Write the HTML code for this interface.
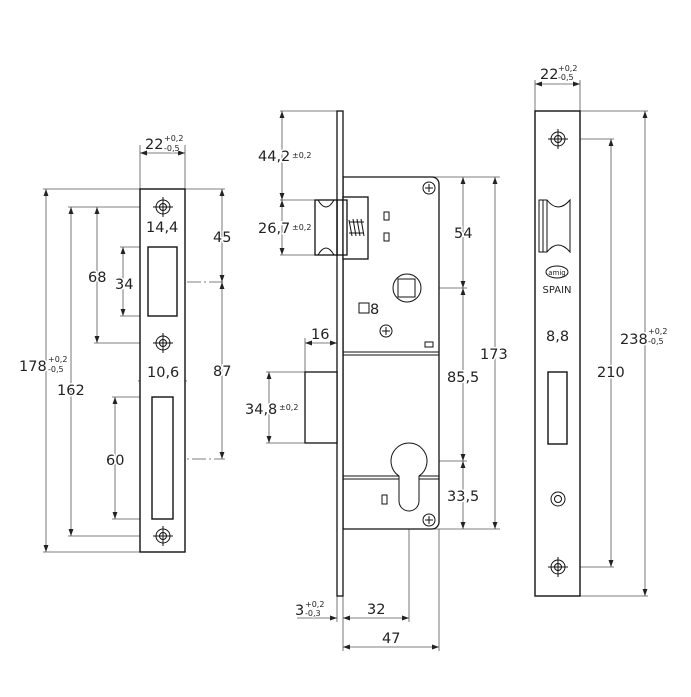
<!DOCTYPE html>
<html><head><meta charset="utf-8"><style>
html,body{margin:0;padding:0;background:#fff;}
svg{display:block;}
text{font-family:"DejaVu Sans","Liberation Sans",sans-serif;fill:#222;paint-order:stroke;stroke:#fff;stroke-width:3px;}
.d{font-size:14.5px;}
.s{font-size:8px;stroke-width:1.5px;}
</style></head><body>
<svg width="691" height="697" viewBox="0 0 691 697" xmlns="http://www.w3.org/2000/svg">
<defs>
<marker id="a" viewBox="0 0 10 10" refX="10" refY="5" markerWidth="7" markerHeight="7" orient="auto-start-reverse" markerUnits="userSpaceOnUse"><path d="M0,1.5 L10,5 L0,8.5 z" fill="#222"/></marker>
</defs>

<!-- ===== LEFT STRIKE PLATE ===== -->
<g stroke="#555" stroke-width="0.8" fill="none">
  <line x1="140" y1="145" x2="140" y2="189"/><line x1="185" y1="145" x2="185" y2="189"/>
  <line x1="140" y1="153" x2="185" y2="153" marker-start="url(#a)" marker-end="url(#a)"/>
  <line x1="43" y1="189" x2="140" y2="189"/><line x1="43" y1="552" x2="140" y2="552"/>
  <line x1="46" y1="189" x2="46" y2="552" marker-start="url(#a)" marker-end="url(#a)"/>
  <line x1="68" y1="207" x2="155" y2="207"/><line x1="68" y1="536" x2="155" y2="536"/>
  <line x1="71" y1="207" x2="71" y2="536" marker-start="url(#a)" marker-end="url(#a)"/>
  <line x1="94" y1="343" x2="155" y2="343"/>
  <line x1="97" y1="207" x2="97" y2="343" marker-start="url(#a)" marker-end="url(#a)"/>
  <line x1="120" y1="247" x2="148" y2="247"/><line x1="120" y1="316" x2="148" y2="316"/>
  <line x1="123" y1="247" x2="123" y2="316" marker-start="url(#a)" marker-end="url(#a)"/>
  <line x1="148" y1="232" x2="148" y2="247"/><line x1="177" y1="232" x2="177" y2="247"/>
  <line x1="148" y1="236" x2="177" y2="236" marker-start="url(#a)" marker-end="url(#a)"/>
  <line x1="152" y1="378" x2="152" y2="397"/><line x1="173" y1="378" x2="173" y2="397"/>
  <line x1="138" y1="381" x2="152" y2="381" marker-end="url(#a)"/>
  <line x1="187" y1="381" x2="173" y2="381" marker-end="url(#a)"/>
  <line x1="112" y1="397" x2="152" y2="397"/><line x1="112" y1="519" x2="152" y2="519"/>
  <line x1="115" y1="397" x2="115" y2="519" marker-start="url(#a)" marker-end="url(#a)"/>
  <line x1="185" y1="189" x2="225" y2="189"/>
  <line x1="143" y1="282" x2="225" y2="282" stroke-dasharray="14 3 2 3"/>
  <line x1="148" y1="459" x2="225" y2="459" stroke-dasharray="14 3 2 3"/>
  <line x1="222" y1="189" x2="222" y2="282" marker-start="url(#a)" marker-end="url(#a)"/>
  <line x1="222" y1="282" x2="222" y2="459" marker-start="url(#a)" marker-end="url(#a)"/>
</g>
<g stroke="#111" stroke-width="1.4" fill="#fff">
  <rect x="140" y="189" width="45" height="363"/>
  <rect x="148" y="247" width="29" height="69"/>
  <rect x="152" y="397" width="21" height="122"/>
</g>
<g stroke="#111" stroke-width="1" fill="none">
  <circle cx="163" cy="207" r="7"/><circle cx="163" cy="207" r="3.5"/><path d="M153 207h20M163 197v20"/>
  <circle cx="163" cy="343" r="7"/><circle cx="163" cy="343" r="3.5"/><path d="M153 343h20M163 333v20"/>
  <circle cx="163" cy="536" r="7"/><circle cx="163" cy="536" r="3.5"/><path d="M153 536h20M163 526v20"/>
</g>
<text class="d" x="145" y="149">22</text><text class="s" x="164" y="141">+0,2</text><text class="s" x="164" y="151">-0,5</text>
<text class="d" x="19" y="371">178</text><text class="s" x="48" y="362">+0,2</text><text class="s" x="48" y="372">-0,5</text>
<text class="d" x="57" y="395">162</text>
<text class="d" x="88" y="282">68</text>
<text class="d" x="115" y="289">34</text>
<text class="d" x="146" y="232">14,4</text>
<text class="d" x="147" y="377">10,6</text>
<text class="d" x="106" y="465">60</text>
<text class="d" x="213" y="242">45</text>
<text class="d" x="213" y="376">87</text>

<!-- ===== MIDDLE LOCK ===== -->
<g stroke="#555" stroke-width="0.8" fill="none">
  <line x1="280" y1="111" x2="337" y2="111"/><line x1="280" y1="200" x2="315" y2="200"/><line x1="280" y1="255" x2="315" y2="255"/>
  <line x1="282" y1="111" x2="282" y2="200" marker-start="url(#a)" marker-end="url(#a)"/>
  <line x1="282" y1="200" x2="282" y2="255" marker-start="url(#a)" marker-end="url(#a)"/>
  <line x1="305" y1="338" x2="305" y2="372"/>
  <line x1="305" y1="343" x2="337" y2="343" marker-start="url(#a)" marker-end="url(#a)"/>
  <line x1="266" y1="372" x2="305" y2="372"/><line x1="266" y1="443" x2="305" y2="443"/>
  <line x1="269" y1="372" x2="269" y2="443" marker-start="url(#a)" marker-end="url(#a)"/>
  <line x1="420" y1="177" x2="500" y2="177"/><line x1="430" y1="529" x2="500" y2="529"/>
  <line x1="408" y1="288" x2="467" y2="288"/><line x1="409" y1="461" x2="467" y2="461"/>
  <line x1="463" y1="177" x2="463" y2="288" marker-start="url(#a)" marker-end="url(#a)"/>
  <line x1="463" y1="288" x2="463" y2="461" marker-start="url(#a)" marker-end="url(#a)"/>
  <line x1="463" y1="461" x2="463" y2="529" marker-start="url(#a)" marker-end="url(#a)"/>
  <line x1="495" y1="177" x2="495" y2="529" marker-start="url(#a)" marker-end="url(#a)"/>
  <line x1="408" y1="255" x2="408" y2="320"/>
  <line x1="398" y1="297" x2="398" y2="320"/><line x1="415" y1="297" x2="415" y2="320"/>
  <line x1="370" y1="318" x2="398" y2="318" marker-end="url(#a)"/>
  <line x1="432" y1="318" x2="415" y2="318" marker-end="url(#a)"/>
  <line x1="409" y1="461" x2="409" y2="622"/>
  <line x1="337" y1="596" x2="337" y2="622"/><line x1="343" y1="596" x2="343" y2="651"/><line x1="439" y1="529" x2="439" y2="651"/>
  <line x1="297" y1="618" x2="337" y2="618" marker-end="url(#a)"/>
  <line x1="343" y1="618" x2="409" y2="618" marker-start="url(#a)" marker-end="url(#a)"/>
  <line x1="343" y1="647" x2="439" y2="647" marker-start="url(#a)" marker-end="url(#a)"/>
</g>
<g stroke="#111" stroke-width="1.3" fill="#fff">
  <path d="M343 177 H432 A7 7 0 0 1 439 184 V522 A7 7 0 0 1 432 529 H343 Z"/>
  <rect x="337" y="111" width="6" height="485"/>
  <rect x="343" y="197" width="25" height="62"/>
  <rect x="315" y="200" width="22" height="55"/>
  <rect x="337" y="200" width="10" height="55" fill="none"/>
  <rect x="305" y="372" width="32" height="71"/>
</g>
<g stroke="#111" stroke-width="1" fill="none">
  <path d="M318 200 Q326 214 334 200"/><path d="M318 255 Q326 241 334 255"/>
  <path d="M349 220 L352 236 M353 219 L356 236 M357 219 L360 236 M361 219 L364 236 M349 222 H364 M349 233 H364"/>
  <line x1="343" y1="352" x2="439" y2="352"/><line x1="343" y1="355" x2="439" y2="355"/>
  <line x1="343" y1="476" x2="439" y2="476"/><line x1="343" y1="479" x2="439" y2="479"/>
  <rect x="384" y="212" width="5" height="8"/><rect x="384" y="233" width="5" height="8"/>
  <rect x="382" y="495" width="5" height="9"/>
  <circle cx="407" cy="288" r="14" fill="#fff"/><rect x="398" y="279" width="17" height="18"/>
  <rect x="425" y="342" width="8" height="5"/>
  <path d="M399 476 A18 18 0 1 1 419 476 L419 501 A10 10 0 0 1 399 501 Z" fill="#fff"/>
  <circle cx="429" cy="188" r="6"/><path d="M425 188h8M429 184v8"/>
  <circle cx="386" cy="331" r="6"/><path d="M382 331h8M386 327v8"/>
  <circle cx="429" cy="520" r="6"/><path d="M425 520h8M429 516v8"/>
  <rect x="359" y="303" width="10" height="10" stroke-width="1"/>
</g>
<text class="d" x="258" y="161">44,2</text><text class="s" x="292" y="158">±0,2</text>
<text class="d" x="258" y="233">26,7</text><text class="s" x="292" y="230">±0,2</text>
<text class="d" x="311" y="339">16</text>
<text class="d" x="245" y="414">34,8</text><text class="s" x="279" y="410">±0,2</text>
<text class="d" x="370" y="314">8</text>
<text class="d" x="454" y="238">54</text>
<text class="d" x="480" y="359">173</text>
<text class="d" x="447" y="382">85,5</text>
<text class="d" x="447" y="501">33,5</text>
<text class="d" x="295" y="615">3</text><text class="s" x="305" y="607">+0,2</text><text class="s" x="305" y="616">-0,3</text>
<text class="d" x="367" y="614">32</text>
<text class="d" x="382" y="643">47</text>

<!-- ===== RIGHT FACEPLATE ===== -->
<g stroke="#555" stroke-width="0.8" fill="none">
  <line x1="535" y1="80" x2="535" y2="111"/><line x1="580" y1="80" x2="580" y2="111"/>
  <line x1="535" y1="84" x2="580" y2="84" marker-start="url(#a)" marker-end="url(#a)"/>
  <line x1="580" y1="111" x2="648" y2="111"/><line x1="580" y1="596" x2="648" y2="596"/>
  <line x1="645" y1="111" x2="645" y2="596" marker-start="url(#a)" marker-end="url(#a)"/>
  <line x1="568" y1="139" x2="614" y2="139"/><line x1="568" y1="567" x2="614" y2="567"/>
  <line x1="611" y1="139" x2="611" y2="567" marker-start="url(#a)" marker-end="url(#a)"/>
  <line x1="548" y1="343" x2="548" y2="372"/><line x1="567" y1="343" x2="567" y2="372"/>
  <line x1="535" y1="347" x2="548" y2="347" marker-end="url(#a)"/>
  <line x1="580" y1="347" x2="567" y2="347" marker-end="url(#a)"/>
</g>
<g stroke="#111" stroke-width="1.4" fill="#fff">
  <rect x="535" y="111" width="45" height="485"/>
  <rect x="548" y="372" width="19" height="72"/>
</g>
<g stroke="#111" stroke-width="1" fill="none">
  <path d="M539 200 H547 Q558 214 570 200 V252 Q558 238 547 252 H539 Z"/>
  <line x1="543" y1="200" x2="543" y2="252"/><line x1="547" y1="200" x2="547" y2="252"/>
  <ellipse cx="557" cy="272" rx="11" ry="6"/>
  <circle cx="558" cy="139" r="7"/><circle cx="558" cy="139" r="3.5"/><path d="M548 139h20M558 129v20"/>
  <circle cx="558" cy="499" r="7"/><circle cx="558" cy="499" r="3.5"/>
  <circle cx="558" cy="567" r="7"/><circle cx="558" cy="567" r="3.5"/><path d="M548 567h20M558 557v20"/>
</g>
<text x="557" y="275" style="font-size:7px;stroke:none" text-anchor="middle">amig</text>
<text x="557" y="293" style="font-size:10px;stroke:none" text-anchor="middle">SPAIN</text>
<text class="d" x="546" y="341">8,8</text>
<text class="d" x="597" y="377">210</text>
<text class="d" x="540" y="79">22</text><text class="s" x="558" y="71">+0,2</text><text class="s" x="558" y="80">-0,5</text>
<text class="d" x="620" y="344">238</text><text class="s" x="648" y="334">+0,2</text><text class="s" x="648" y="344">-0,5</text>
</svg>
</body></html>
